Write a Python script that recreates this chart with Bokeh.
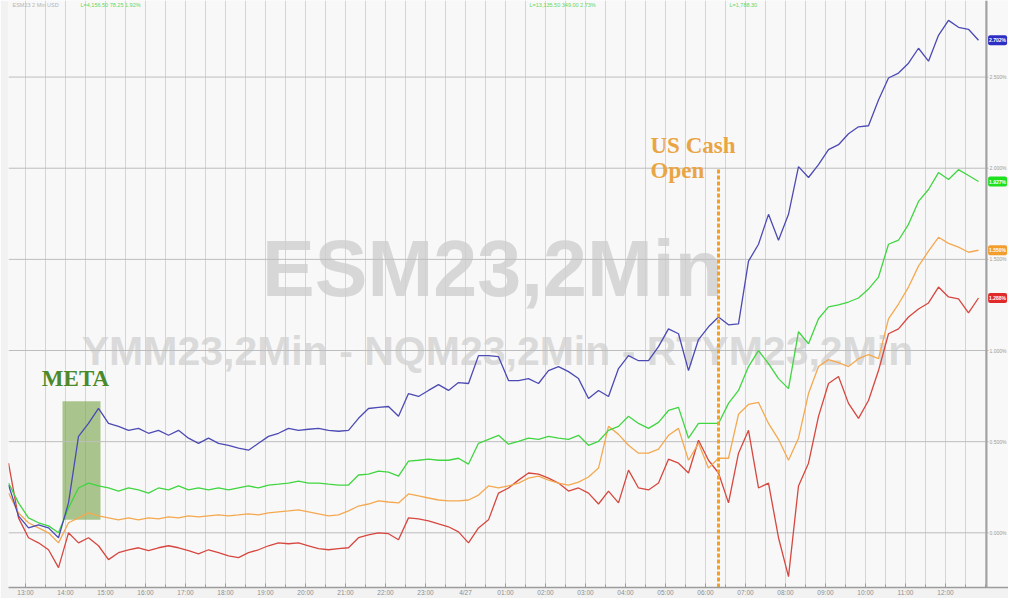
from bokeh.plotting import figure
from bokeh.models import Range1d, FixedTicker, Label, BoxAnnotation
from bokeh.core.properties import value
from bokeh.embed import file_html
from bokeh.resources import INLINE

# ---------------- data ----------------
# x: hours relative to chart-local midnight (4/27), one reading every 15 minutes
T_START = -11.425
T_STEP = 0.25

# % change of the 2-min futures (readings from the chart)
NQ = [0.262, 0.093, 0.027, 0.044, 0.027, -0.027, 0.164, 0.529, 0.600, 0.682,
      0.600, 0.584, 0.562, 0.573, 0.546, 0.562, 0.535, 0.562, 0.519, 0.491,
      0.519, 0.491, 0.480, 0.464, 0.453, 0.491, 0.529, 0.546, 0.573, 0.562,
      0.568, 0.573, 0.562, 0.557, 0.562, 0.628, 0.682, 0.688, 0.693, 0.639,
      0.764, 0.748, 0.781, 0.813, 0.781, 0.824, 0.819, 0.972, 0.972, 0.966,
      0.835, 0.835, 0.846, 0.819, 0.890, 0.912, 0.884, 0.846, 0.737, 0.781,
      0.748, 0.901, 0.972, 0.944, 0.944, 1.021, 1.119, 1.092, 0.890, 1.060,
      1.130, 1.184, 1.141, 1.146, 1.490, 1.583, 1.747, 1.605, 1.747, 2.009,
      1.949, 2.020, 2.102, 2.129, 2.189, 2.227, 2.233, 2.374, 2.495, 2.522,
      2.576, 2.658, 2.587, 2.729, 2.811, 2.773, 2.762, 2.702]

ES = [0.273, 0.164, 0.082, 0.055, 0.038, 0.000, 0.136, 0.246, 0.273, 0.257,
      0.246, 0.229, 0.246, 0.235, 0.218, 0.246, 0.235, 0.257, 0.235, 0.246,
      0.235, 0.246, 0.235, 0.246, 0.257, 0.246, 0.262, 0.267, 0.273, 0.284,
      0.273, 0.273, 0.267, 0.262, 0.262, 0.317, 0.322, 0.338, 0.333, 0.311,
      0.393, 0.398, 0.404, 0.398, 0.398, 0.409, 0.377, 0.491, 0.513, 0.535,
      0.486, 0.502, 0.519, 0.513, 0.529, 0.519, 0.513, 0.535, 0.480, 0.502,
      0.562, 0.584, 0.639, 0.600, 0.573, 0.606, 0.671, 0.688, 0.519, 0.600,
      0.600, 0.600, 0.710, 0.781, 0.912, 0.999, 0.928, 0.846, 0.791, 1.103,
      1.037, 1.174, 1.239, 1.250, 1.266, 1.288, 1.337, 1.403, 1.583, 1.605,
      1.692, 1.818, 1.883, 1.976, 1.938, 1.992, 1.960, 1.927]

YM = [0.218, 0.109, 0.055, 0.027, 0.000, -0.055, 0.055, 0.082, 0.109, 0.093,
      0.082, 0.071, 0.082, 0.071, 0.082, 0.076, 0.087, 0.082, 0.093, 0.087,
      0.093, 0.098, 0.093, 0.098, 0.104, 0.098, 0.109, 0.115, 0.120, 0.126,
      0.115, 0.104, 0.093, 0.098, 0.120, 0.147, 0.158, 0.175, 0.169, 0.164,
      0.213, 0.202, 0.191, 0.180, 0.175, 0.175, 0.180, 0.207, 0.257, 0.246,
      0.257, 0.273, 0.300, 0.311, 0.289, 0.273, 0.262, 0.278, 0.306, 0.355,
      0.584, 0.540, 0.480, 0.437, 0.437, 0.459, 0.535, 0.573, 0.398, 0.491,
      0.355, 0.409, 0.409, 0.650, 0.704, 0.715, 0.600, 0.513, 0.398, 0.519,
      0.764, 0.912, 0.950, 0.933, 0.912, 0.955, 0.977, 0.955, 1.174, 1.255,
      1.348, 1.463, 1.545, 1.621, 1.588, 1.567, 1.539, 1.550]

RTY = [0.382, 0.082, -0.027, -0.055, -0.093, -0.191, 0.000, -0.055, -0.027, -0.071,
       -0.147, -0.109, -0.093, -0.082, -0.098, -0.082, -0.071, -0.082, -0.098, -0.115,
       -0.093, -0.109, -0.126, -0.136, -0.109, -0.093, -0.071, -0.055, -0.060, -0.055,
       -0.071, -0.087, -0.093, -0.087, -0.082, -0.027, -0.011, 0.000, -0.005, -0.038,
       0.082, 0.076, 0.066, 0.049, 0.033, 0.005, -0.055, 0.027, 0.071, 0.218,
       0.246, 0.289, 0.328, 0.322, 0.300, 0.273, 0.229, 0.246, 0.218, 0.158,
       0.229, 0.164, 0.344, 0.246, 0.235, 0.273, 0.404, 0.382, 0.328, 0.508,
       0.398, 0.328, 0.164, 0.437, 0.562, 0.246, 0.273, -0.027, -0.240, 0.257,
       0.382, 0.639, 0.819, 0.857, 0.710, 0.628, 0.726, 0.890, 1.092, 1.119,
       1.184, 1.228, 1.261, 1.348, 1.294, 1.283, 1.206, 1.288]

SERIES = ["RTYM23", "YMM23", "ESM23", "NQM23"]
COLORS = ["#d6473f", "#f4a951", "#41d541", "#4c4ab3"]
BADGE_COLORS = ["#e12b2b", "#f39d2c", "#1fe01f", "#2e2ec4"]

HOUR_TICKS = list(range(-11, 13))
HOUR_LABELS = ["13:00", "14:00", "15:00", "16:00", "17:00", "18:00", "19:00",
               "20:00", "21:00", "22:00", "23:00", "4/27", "01:00", "02:00",
               "03:00", "04:00", "05:00", "06:00", "07:00", "08:00", "09:00",
               "10:00", "11:00", "12:00"]
Y_TICKS = [0.0, 0.5, 1.0, 1.5, 2.0, 2.5]
Y_LABELS = ["0.000%", "0.500%", "1.000%", "1.500%", "2.000%", "2.500%"]

HEADER_TEXTS = ["ESM23  2 Min   USD", "L=4,156.50   78.25   1.92%",
                "L=13,135.50   349.00   2.73%", "L=1,788.30"]
HEADER_COLORS = ["#b4b4b4", "#5fd75f", "#5fd75f", "#5fd75f"]

META_START, META_END = -10.075, -9.125
CASH_OPEN = 6.325

# ---------------- layout constants ----------------
X_LEFT, X_RIGHT = -11.425, 13.575     # frame spans the full width incl. price tags
AXIS_X = 13.025                        # the right-hand price axis line
Y_LOW, Y_HIGH = -0.300, 2.920
HEADER_X = [-11.325, -9.625, 1.6, 6.6]
HEADER_Y = 2.895

t = [T_START + i * T_STEP for i in range(len(NQ))]
values = {"RTYM23": RTY, "YMM23": YM, "ESM23": ES, "NQM23": NQ}

p = figure(width=1008, height=598,
           x_range=Range1d(X_LEFT, X_RIGHT), y_range=Range1d(Y_LOW, Y_HIGH),
           y_axis_location=None, output_backend="svg", toolbar_location=None,
           min_border_left=8, min_border_top=0, min_border_bottom=8, min_border_right=0,
           background_fill_color="#f8f8f8", border_fill_color="#f2f2f2",
           outline_line_color=None)

half_hours = [h / 2 for h in range(-22, 27)]
p.xgrid.ticker = FixedTicker(ticks=half_hours)
p.xgrid.grid_line_color = "#d5d5d5"
p.xgrid.grid_line_width = 1
p.ygrid.grid_line_color = None

p.xaxis.ticker = FixedTicker(ticks=HOUR_TICKS, minor_ticks=half_hours)
p.xaxis.major_label_overrides = {h: lab for h, lab in zip(HOUR_TICKS, HOUR_LABELS)}
ax = p.xaxis[0]
ax.axis_line_color = "#9c9c9c"
ax.axis_line_width = 1.5
ax.major_tick_line_color = "#9c9c9c"
ax.minor_tick_line_color = "#9c9c9c"
ax.major_tick_in = 4
ax.major_tick_out = 0
ax.minor_tick_in = 3
ax.minor_tick_out = 0
ax.major_label_text_font = "Liberation Sans"
ax.major_label_text_font_size = "6.5px"
ax.major_label_text_color = "#8c8c8c"
ax.major_label_standoff = 1

# horizontal grid and right-hand price axis
p.segment(x0=[X_LEFT] * len(Y_TICKS), y0=Y_TICKS, x1=[AXIS_X + 0.05] * len(Y_TICKS),
          y1=Y_TICKS, line_color="#bdbdbd", line_width=1)
p.segment(x0=[AXIS_X], y0=[Y_LOW], x1=[AXIS_X], y1=[Y_HIGH],
          line_color="#a2a2a2", line_width=2)
p.text(x=[AXIS_X + 0.075] * len(Y_TICKS), y=Y_TICKS, text=Y_LABELS,
       text_font=value("Liberation Sans"), text_font_size="5px",
       text_color="#9a9a9a", text_baseline="middle", text_align="left")

# watermarks
p.add_layout(Label(x=0.675, y=1.450, text="ESM23,2Min", text_align="center",
                   text_baseline="middle", text_font="Liberation Sans",
                   text_font_style="bold", text_font_size="79px",
                   text_color="#cccccc", text_alpha=0.75, level="underlay"))
p.add_layout(Label(x=0.8, y=0.999, text="YMM23,2Min - NQM23,2Min - RTYM23,2Min",
                   text_align="center", text_baseline="middle",
                   text_font="Liberation Sans", text_font_style="bold",
                   text_font_size="41px", text_color="#d0d0d0", text_alpha=0.75,
                   level="underlay"))

# header strip (faint quote line)
p.text(x=HEADER_X, y=[HEADER_Y] * len(HEADER_X), text=HEADER_TEXTS,
       text_color=HEADER_COLORS, text_font=value("Liberation Sans"),
       text_font_size="5.5px", text_baseline="middle", text_align="left")

# META earnings window
p.add_layout(BoxAnnotation(left=META_START, right=META_END, bottom=0.071, top=0.721,
                           fill_color="#79a64c", fill_alpha=0.62, line_color=None,
                           level="underlay"))
p.add_layout(Label(x=-9.75, y=0.846, text="META",
                   text_align="center", text_baseline="middle",
                   text_font="Liberation Serif", text_font_style="bold",
                   text_font_size="23px", text_color="#4b8a2c"))

# series
for name, col in zip(SERIES, COLORS):
    p.line(t, values[name], line_color=col, line_width=1.3)

# US cash open
p.segment(x0=[CASH_OPEN], y0=[Y_LOW], x1=[CASH_OPEN], y1=[2.003],
          line_color="#f5a020", line_width=3, line_dash="4 2")
p.add_layout(Label(x=4.625, y=2.123, text="US Cash", text_align="left",
                   text_baseline="middle", text_font="Liberation Serif",
                   text_font_style="bold", text_font_size="23px", text_color="#e9a544"))
p.add_layout(Label(x=4.625, y=1.987, text="Open", text_align="left",
                   text_baseline="middle", text_font="Liberation Serif",
                   text_font_style="bold", text_font_size="23px", text_color="#e9a544"))

# last-value price tags on the right
for name, bc in zip(SERIES, BADGE_COLORS):
    last = values[name][-1]
    p.add_layout(Label(x=AXIS_X + 0.04, y=last, text=f"{last:.3f}%",
                       text_baseline="middle", text_align="left",
                       text_font="Liberation Sans", text_font_style="bold",
                       text_font_size="5px", text_color="white",
                       background_fill_color=bc, background_fill_alpha=1.0,
                       padding=(1, 2), border_radius=2))

open("out.html", "w").write(file_html(p, INLINE))
